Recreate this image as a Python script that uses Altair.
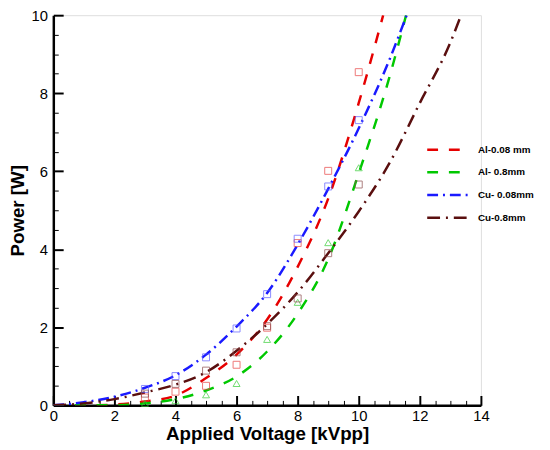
import altair as alt
import pandas as pd

series = ["Al-0.08 mm", "Al- 0.8mm", "Cu- 0.08mm", "Cu-0.8mm"]
line_colors = ["#e60000", "#00c800", "#1a1aff", "#5a0f0f"]
marker_colors = ["#e84040", "#33cc33", "#5a5aff", "#8a4a4a"]
dashes = [[11, 11], [11, 11], [11, 5, 2, 5], [13, 6, 2, 6]]
shapes = ["square", "triangle-up", "square", "square"]

# measured points
pt_v = [3, 4, 5, 6, 7, 8, 9, 10]
al008_pts = [0.2, 0.35, 0.5, 1.04, 1.99, 4.16, 6.01, 8.54]
al08_pts = [0.05, 0.12, 0.27, 0.56, 1.69, 2.64, 4.17, 6.09]
cu008_pts = [0.42, 0.75, 1.23, 1.97, 2.85, 4.27, 5.61, 7.31]
cu08_pts = [0.3, 0.55, 0.89, 1.36, 2.03, 2.74, 3.9, 5.66]

# fitted curves
al008_cv = [0, 1, 2, 3, 4, 5, 6, 7, 8, 9, 10, 10.8]
al008_cp = [0, 0.0, 0.02, 0.1, 0.25, 0.7, 1.3, 2.2, 3.55, 5.3, 7.75, 10]
al08_cv = [0, 1, 2, 3, 4, 5, 6, 7, 8, 9, 10, 11, 11.55]
al08_cp = [0, 0, 0.0, 0.05, 0.16, 0.38, 0.74, 1.38, 2.35, 3.75, 5.95, 8.4, 10]
cu008_cv = [0, 1, 2, 3, 4, 5, 6, 7, 8, 9, 10, 11, 11.57]
cu008_cp = [0, 0.08, 0.22, 0.45, 0.77, 1.3, 2.02, 2.88, 4.12, 5.55, 7.1, 8.85, 10]
cu08_cv = [0, 1, 2, 3, 4, 5, 6, 7, 8, 9, 10, 11, 12, 13, 13.35]
cu08_cp = [0, 0.05, 0.16, 0.33, 0.53, 0.85, 1.4, 2.08, 2.9, 3.9, 4.97, 6.2, 7.75, 9.3, 10]

x_ticks = [0, 0.5, 1, 1.5, 2, 2.5, 3, 3.5, 4, 4.5, 5, 5.5, 6, 6.5, 7, 7.5,
           8, 8.5, 9, 9.5, 10, 10.5, 11, 11.5, 12, 12.5, 13, 13.5, 14]
x_labels = [0, 2, 4, 6, 8, 10, 12, 14]
y_ticks = [0, 0.5, 1, 1.5, 2, 2.5, 3, 3.5, 4, 4.5, 5, 5.5, 6, 6.5, 7, 7.5,
           8, 8.5, 9, 9.5, 10]
y_labels = [0, 2, 4, 6, 8, 10]

rows = []
for s, vv, pp in zip(series, [al008_cv, al08_cv, cu008_cv, cu08_cv],
                     [al008_cp, al08_cp, cu008_cp, cu08_cp]):
    for v, p in zip(vv, pp):
        rows.append({"s": s, "v": v, "p": p})
curve_df = pd.DataFrame(rows)

rows = []
for s, pp in zip(series, [al008_pts, al08_pts, cu008_pts, cu08_pts]):
    for v, p in zip(pt_v, pp):
        rows.append({"s": s, "v": v, "p": p})
pts_df = pd.DataFrame(rows)

W, H = 434, 396
FONT = "Liberation Sans"

xscale = alt.Scale(domain=[0, 14], nice=False, zero=False)
yscale = alt.Scale(domain=[0, 10], nice=False, zero=False)

leg = alt.Legend(
    title=None, orient="none", legendX=392, legendY=128,
    symbolType="M-3,0H3", symbolSize=196, symbolStrokeWidth=2.5,
    labelFont=FONT, labelFontSize=10, labelFontWeight="bold",
    labelColor="black", rowPadding=9, labelOffset=22, padding=0,
    labelLimit=200,
)

lines = alt.Chart(curve_df).mark_line(
    strokeWidth=2.5, interpolate="monotone", clip=True
).encode(
    x=alt.X("v:Q", scale=xscale, axis=alt.Axis(
        values=x_labels, ticks=False, grid=False, domainWidth=2.5,
        domainColor="black", labelFont=FONT, labelFontSize=15,
        labelColor="black", labelPadding=3, labelFlush=False,
        title="Applied Voltage [kVpp]", titleFont=FONT, titleFontSize=19,
        titleFontWeight="bold", titleColor="black", titleY=35,
        titleBaseline="alphabetic")),
    y=alt.Y("p:Q", scale=yscale, axis=alt.Axis(
        values=y_labels, ticks=False, grid=False, domainWidth=2.5,
        domainColor="black", labelFont=FONT, labelFontSize=15,
        labelColor="black", labelPadding=6, labelFlush=False,
        title="Power [W]", titleFont=FONT, titleFontSize=19,
        titleFontWeight="bold", titleColor="black", titleX=-30,
        titleY=H / 2, titleBaseline="alphabetic", titleAlign="center",
        titleAngle=270)),
    color=alt.Color("s:N", scale=alt.Scale(domain=series, range=line_colors),
                    legend=leg),
    strokeDash=alt.StrokeDash("s:N", scale=alt.Scale(domain=series, range=dashes),
                              legend=leg),
)

tick_size = {"condition": {"test": "datum.value % 2 === 0", "value": 10}, "value": 5}
tick_width = {"condition": {"test": "datum.value % 2 === 0", "value": 2}, "value": 1}

points = alt.Chart(pts_df).mark_point(
    filled=False, size=50, strokeWidth=1
).encode(
    x=alt.X("v:Q", scale=xscale, axis=alt.Axis(
        orient="top", offset=-H, values=x_ticks, labels=False, domain=False,
        grid=False, title=None, tickColor="black",
        tickSize=tick_size, tickWidth=tick_width)),
    y=alt.Y("p:Q", scale=yscale, axis=alt.Axis(
        orient="right", offset=-W, values=y_ticks, labels=False, domain=False,
        grid=False, title=None, tickColor="black",
        tickSize=tick_size, tickWidth=tick_width)),
    color=alt.Color("s:N", scale=alt.Scale(domain=series, range=marker_colors),
                    legend=None),
    shape=alt.Shape("s:N", scale=alt.Scale(domain=series, range=shapes),
                    legend=None),
)

chart = alt.layer(lines, points).resolve_scale(
    color="independent", shape="independent", strokeDash="independent"
).resolve_axis(
    x="independent", y="independent"
).properties(
    width=W, height=H, autosize="none",
    padding={"left": 46, "top": 4, "right": 62, "bottom": 40},
).configure_view(stroke=None).configure(background="white")

chart.save("out.html", embed_options={"renderer": "svg", "actions": False})
